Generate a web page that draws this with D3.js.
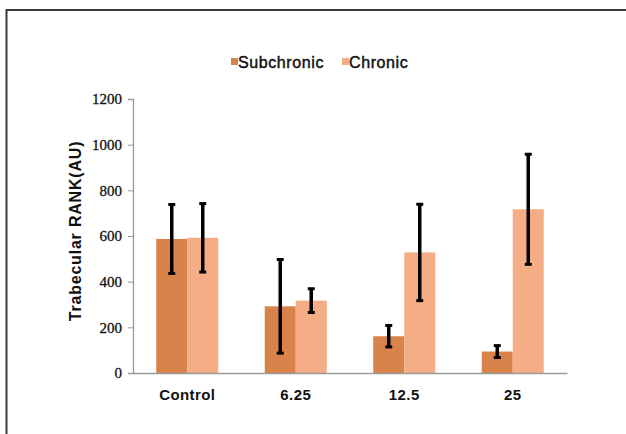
<!DOCTYPE html>
<html>
<head>
<meta charset="utf-8">
<script src="https://cdn.jsdelivr.net/npm/d3@7"></script>
<style>
  html, body { margin: 0; padding: 0; background: #fff; }
  svg { display: block; }
</style>
</head>
<body>
<svg id="chart" width="626" height="434"></svg>
<script>
// Dose groups and series
const categories = ["Control", "6.25", "12.5", "25"];
const seriesNames = ["Subchronic", "Chronic"];
const subchronicMean = [587, 292, 161, 94];
const subchronicErr  = [151, 205, 47, 26];
const chronicMean    = [592, 317, 528, 717];
const chronicErr     = [150, 52, 211, 241];
const yTicks = [0, 200, 400, 600, 800, 1000, 1200];
const colors = ["#D9834B", "#F4AD84"];

const svg = d3.select("#chart");

// outer frame (top and left edges)
svg.append("path")
  .attr("d", "M6.5,434 L6.5,10 L626,10")
  .attr("fill", "none").attr("stroke", "#3a3a3a").attr("stroke-width", 2);

const plot = { left: 133, right: 567, top: 99, bottom: 373 };

const x = d3.scaleBand().domain(categories).range([plot.left, plot.right]).paddingInner(0).paddingOuter(0);
const inner = d3.scaleBand().domain(seriesNames).range([-31, 31]);
const y = d3.scaleLinear().domain([0, 1200]).range([plot.bottom, plot.top]);

const series = [
  { name: "Subchronic", mean: subchronicMean, err: subchronicErr, color: colors[0] },
  { name: "Chronic", mean: chronicMean, err: chronicErr, color: colors[1] }
];

// bars
series.forEach(s => {
  svg.append("g").selectAll("rect")
    .data(categories)
    .join("rect")
    .attr("x", (c) => x(c) + x.bandwidth() / 2 + inner(s.name))
    .attr("width", inner.bandwidth())
    .attr("y", (c, i) => y(s.mean[i]))
    .attr("height", (c, i) => y(0) - y(s.mean[i]))
    .attr("fill", s.color);
});

// error bars
series.forEach(s => {
  const g = svg.append("g");
  categories.forEach((c, i) => {
    const cx = x(c) + x.bandwidth() / 2 + inner(s.name) + inner.bandwidth() / 2;
    const hi = y(s.mean[i] + s.err[i]);
    const lo = y(s.mean[i] - s.err[i]);
    g.append("line").attr("x1", cx).attr("x2", cx).attr("y1", hi).attr("y2", lo)
      .attr("stroke", "#000").attr("stroke-width", 3.5);
    [hi, lo].forEach(yy => {
      g.append("line").attr("x1", cx - 3.5).attr("x2", cx + 3.5).attr("y1", yy).attr("y2", yy)
        .attr("stroke", "#000").attr("stroke-width", 3);
    });
  });
});

// y axis
const yAxis = svg.append("g")
  .attr("transform", `translate(${plot.left},0)`)
  .call(d3.axisLeft(y).tickValues(yTicks).tickSize(5).tickPadding(6).tickFormat(d3.format("d")));
yAxis.select(".domain").attr("stroke", "#9a9a9a").attr("stroke-width", 1.3);
yAxis.selectAll(".tick line").attr("stroke", "#9a9a9a");
yAxis.selectAll(".tick text")
  .style("font-family", "'Liberation Serif', 'DejaVu Serif', serif")
  .attr("font-size", 15).attr("fill", "#111")
  .attr("stroke", "#111").attr("stroke-width", 0.3);

// x axis
const xAxis = svg.append("g")
  .attr("transform", `translate(0,${plot.bottom})`)
  .call(d3.axisBottom(x).tickSize(0).tickPadding(16));
xAxis.select(".domain").attr("stroke", "#9a9a9a").attr("stroke-width", 1.3);
xAxis.selectAll(".tick text")
  .attr("font-family", "'Liberation Sans', Arial, sans-serif")
  .attr("font-weight", "bold").attr("font-size", 15)
  .attr("letter-spacing", 0.4).attr("fill", "#111");

// y-axis title
svg.append("text")
  .attr("transform", `translate(81,${(plot.top + plot.bottom) / 2 - 5}) rotate(-90)`)
  .attr("text-anchor", "middle")
  .attr("font-family", "'Liberation Sans', Arial, sans-serif")
  .attr("font-weight", "bold").attr("font-size", 16)
  .attr("letter-spacing", 0.8).attr("fill", "#111")
  .text("Trabecular RANK(AU)");

// legend
const legend = svg.append("g").attr("transform", "translate(231,63)");
const legendX = [0, 111];
series.forEach((s, i) => {
  const lg = legend.append("g").attr("transform", `translate(${legendX[i]},0)`);
  lg.append("rect").attr("x", 0).attr("y", -5).attr("width", 7).attr("height", 7).attr("fill", s.color);
  lg.append("text").attr("x", 7).attr("y", 4.5)
    .attr("font-family", "'Liberation Sans', Arial, sans-serif")
    .attr("font-size", 16).attr("letter-spacing", 0.6).attr("fill", "#111")
    .attr("stroke", "#111").attr("stroke-width", 0.45)
    .text(s.name);
});
</script>
</body>
</html>
